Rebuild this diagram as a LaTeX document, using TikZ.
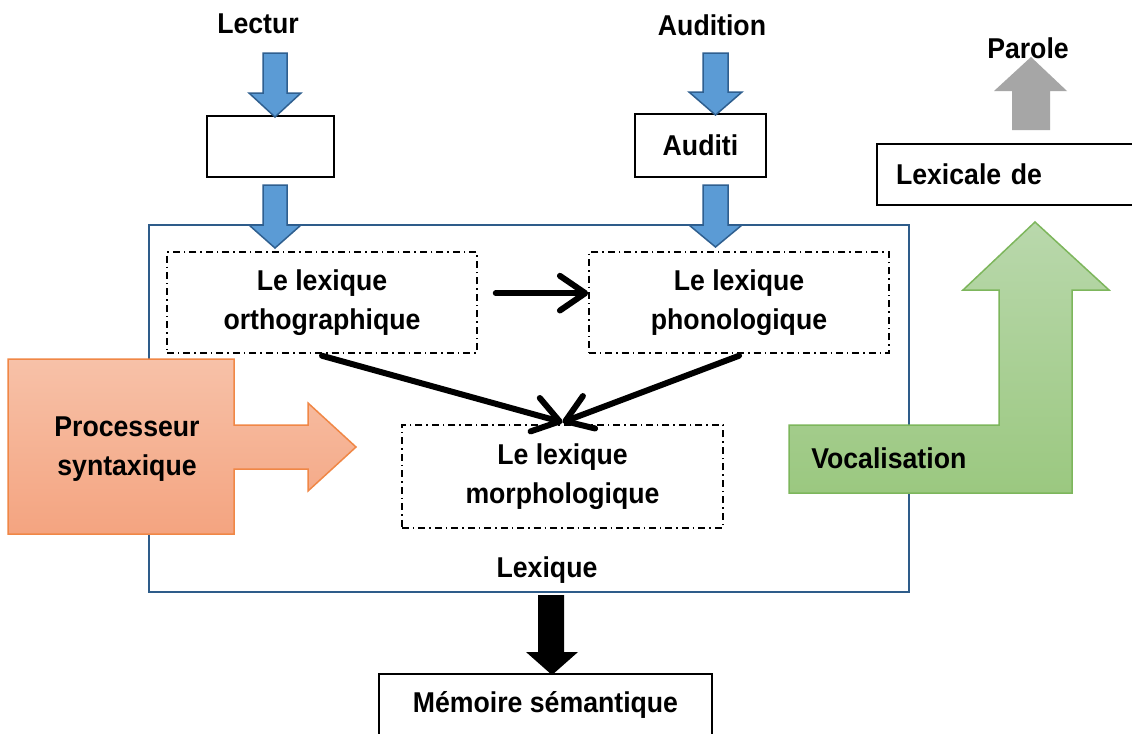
\documentclass[tikz,border=0pt]{standalone}
\usepackage{fontspec}
\setmainfont{Liberation Sans}[FakeStretch=0.93]
\usetikzlibrary{arrows.meta}
% one pixel of the drawing grid, used as a factor: 12\upx = 12*0.75pt
\def\upx{*0.75pt}

\definecolor{blueFill}{RGB}{91,155,213}
\definecolor{blueEdge}{RGB}{47,95,143}
\definecolor{frameBlue}{RGB}{46,92,138}
\definecolor{orTop}{RGB}{247,193,168}
\definecolor{orBot}{RGB}{244,164,128}
\definecolor{orEdge}{RGB}{240,135,70}
\definecolor{grTop}{RGB}{185,216,172}
\definecolor{grBot}{RGB}{155,200,128}
\definecolor{grEdge}{RGB}{125,182,92}
\definecolor{parGray}{RGB}{166,166,166}

\tikzset{
  txt/.style={font=\bfseries\fontsize{21.5}{29}\selectfont, inner sep=0pt},
  plainbox/.style={draw=black, line width=2\upx, txt},
  dbox/.style={draw=black, line width=1.5\upx, txt, align=center,
    dash pattern=on 5.25pt off 3pt on 1.1pt off 3pt},
  bluearrow/.style={fill=blueFill, draw=blueEdge, line width=1.5\upx, line join=miter},
  flow/.style={draw=black, line width=4.5pt, line cap=round,
    -{Straight Barb[length=19pt, width=26pt, round]}},
}

\begin{document}
\begin{tikzpicture}[x=0.75pt, y=-0.75pt]
\useasboundingbox (0,0) rectangle (1132,733);
\clip (0,0) rectangle (1132,733);
\fill[white] (0,0) rectangle (1132,733);

% the lexicon frame
\node[draw=frameBlue, line width=2.5\upx, minimum width=760\upx, minimum height=367\upx] (lexique) at (529,408.5) {};
\node[txt, anchor=base] (lexlabel) at (547,577) {Lexique};

% inputs
\node[txt, anchor=base] (lectur) at (258,33) {Lectur};
\node[txt, anchor=base] (audition) at (712,35) {Audition};
\node[plainbox, minimum width=127\upx, minimum height=61\upx] (visuel) at (270.5,146.5) {};
\node[plainbox, minimum width=131\upx, minimum height=63\upx] (auditi) at (700.5,145.5) {Auditi};

% blue input arrows
\draw[bluearrow] (263,53) -- (287,53) -- (287,93) -- (301,93) -- (275,117) -- (249,93) -- (263,93) -- cycle;
\draw[bluearrow] (263,185) -- (287,185) -- (287,225) -- (301,225) -- (275,248) -- (249,225) -- (263,225) -- cycle;
\draw[bluearrow] (703,53) -- (728,53) -- (728,92) -- (742,92) -- (715.5,115) -- (689,92) -- (703,92) -- cycle;
\draw[bluearrow] (703,185) -- (728,185) -- (728,225) -- (742,225) -- (715.5,247) -- (689,225) -- (703,225) -- cycle;

% inner lexicons
\node[dbox, minimum width=310\upx, minimum height=101\upx] (ortho) at (322,302.5) {Le lexique\\orthographique};
\node[dbox, minimum width=300\upx, minimum height=101\upx] (phono) at (739,302.5) {Le lexique\\phonologique};
\node[dbox, minimum width=321\upx, minimum height=103\upx] (morph) at (562.5,476.5) {Le lexique\\morphologique};

\draw[flow] ([xshift=13.5pt,yshift=7pt]ortho.east) -- ([yshift=7pt]phono.west);
\draw[flow] ([yshift=-1.5pt]ortho.south) -- ([yshift=1.5pt]morph.north);
\draw[flow] ([yshift=-1.5pt]phono.south) -- ([yshift=1.5pt]morph.north);

% syntactic processor
\shadedraw[top color=orTop, bottom color=orBot, draw=orEdge, line width=1.5\upx]
  (8,359) -- (234,359) -- (234,425) -- (308,425) -- (308,403) -- (356,447) -- (308,491)
  -- (308,469) -- (234,469) -- (234,534) -- (8,534) -- cycle;
\node[txt, align=center] (proc) at (127,449) {Processeur\\syntaxique};

% vocalisation
\shadedraw[top color=grTop, bottom color=grBot, draw=grEdge, line width=1.5\upx]
  (789,425) -- (999,425) -- (999,290) -- (963,290) -- (1035,222) -- (1109,290)
  -- (1072,290) -- (1072,493) -- (789,493) -- cycle;
\node[txt, anchor=base west] (voc) at (811,468) {Vocalisation};

% speech output
\node[plainbox, anchor=west, minimum height=61\upx, text width=169.5pt, inner xsep=14.25pt, align=left] (lexdef) at (876,174.5) {Lexicale de};
\fill[parGray] (1012,130) -- (1050,130) -- (1050,91) -- (1067,91) -- (1031,57) -- (994,91) -- (1012,91) -- cycle;
\node[txt, anchor=base] (parole) at (1028,58) {Parole};

% semantic memory
\fill[black] (538,595) -- (564,595) -- (564,652) -- (578,652) -- (552,675) -- (526,652) -- (538,652) -- cycle;
\node[plainbox, minimum width=333\upx, minimum height=62\upx] (memoire) at (545.5,705) {Mémoire sémantique};
\end{tikzpicture}
\end{document}
